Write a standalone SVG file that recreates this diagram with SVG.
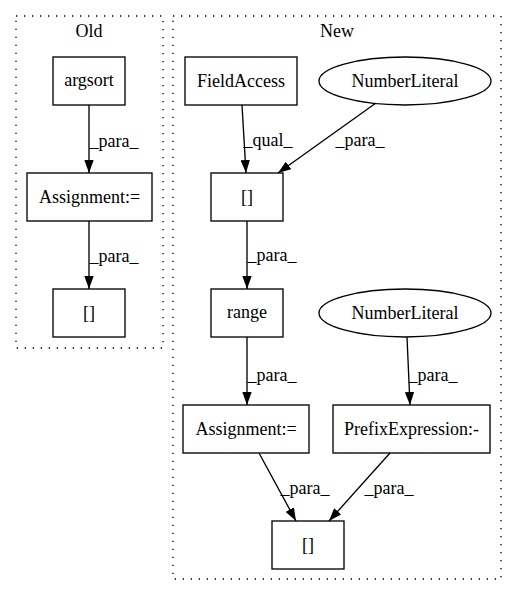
<svg xmlns="http://www.w3.org/2000/svg" width="517" height="596" viewBox="0 0 517 596">
<style>
text{font-family:"Liberation Serif","Times New Roman",serif;font-size:18px;fill:#000}
.n{text-anchor:middle}
.box{fill:none;stroke:#000;stroke-width:1.33}
.cl{fill:none;stroke:#000;stroke-width:1.33;stroke-dasharray:1.33,6.67}
.e{stroke:#000;stroke-width:1.33;fill:none;marker-end:url(#arr)}
.l{text-anchor:middle}
</style>
<defs>
<marker id="arr" viewBox="0 0 13 9.4" refX="13" refY="4.7" markerWidth="13" markerHeight="9.4" orient="auto" markerUnits="userSpaceOnUse">
<path d="M0,0 L13,4.7 L0,9.4 z" fill="#000"/>
</marker>
</defs>
<rect width="517" height="596" fill="#fff"/>
<g id="cluster_old">
<rect class="cl" x="16" y="16" width="147" height="332"/>
<text class="n" x="89" y="37">Old</text>
</g>
<g id="cluster_new">
<rect class="cl" x="173" y="16" width="328" height="563"/>
<text class="n" x="337" y="37">New</text>
</g>
<g id="old_argsort"><rect class="box" x="53" y="57" width="72" height="48"/><text class="n" x="89" y="86">argsort</text></g>
<g id="old_assign"><rect class="box" x="27" y="173" width="125" height="48"/><text class="n" x="89.5" y="203">Assignment:=</text></g>
<g id="old_index"><rect class="box" x="53" y="289" width="72" height="48"/><text class="n" x="89" y="319">[]</text></g>
<g id="new_fieldaccess"><rect class="box" x="185" y="57" width="112" height="48"/><text class="n" x="241" y="87">FieldAccess</text></g>
<g id="new_numlit1"><ellipse class="box" cx="405" cy="81" rx="86" ry="24"/><text class="n" x="405" y="87">NumberLiteral</text></g>
<g id="new_index1"><rect class="box" x="211" y="173" width="72" height="48"/><text class="n" x="247" y="203">[]</text></g>
<g id="new_range"><rect class="box" x="211" y="289" width="72" height="48"/><text class="n" x="247" y="318">range</text></g>
<g id="new_numlit2"><ellipse class="box" cx="405" cy="313" rx="86" ry="24"/><text class="n" x="405" y="319">NumberLiteral</text></g>
<g id="new_assign"><rect class="box" x="183" y="405" width="126" height="48"/><text class="n" x="246" y="435">Assignment:=</text></g>
<g id="new_prefix"><rect class="box" x="333" y="405" width="157" height="48"/><text class="n" x="411.5" y="435">PrefixExpression:-</text></g>
<g id="new_index2"><rect class="box" x="272" y="521" width="72" height="48"/><text class="n" x="308" y="551">[]</text></g>
<g id="connectors">
<line class="e" x1="89" y1="105" x2="89" y2="173"/>
<text class="l" x="114" y="147">_para_</text>
<line class="e" x1="89" y1="221" x2="89" y2="289"/>
<text class="l" x="114" y="262">_para_</text>
<line class="e" x1="242" y1="105" x2="246" y2="173"/>
<text class="l" x="268" y="146">_qual_</text>
<line class="e" x1="376" y1="103" x2="278" y2="173"/>
<text class="l" x="360" y="146">_para_</text>
<line class="e" x1="247" y1="221" x2="247" y2="289"/>
<text class="l" x="272" y="261">_para_</text>
<line class="e" x1="247" y1="337" x2="247" y2="405"/>
<text class="l" x="272" y="381">_para_</text>
<line class="e" x1="407" y1="337" x2="410" y2="405"/>
<text class="l" x="433" y="381">_para_</text>
<line class="e" x1="259" y1="453" x2="296" y2="521"/>
<text class="l" x="305" y="494">_para_</text>
<line class="e" x1="390" y1="453" x2="329" y2="521"/>
<text class="l" x="389" y="494">_para_</text>
</g>
</svg>
